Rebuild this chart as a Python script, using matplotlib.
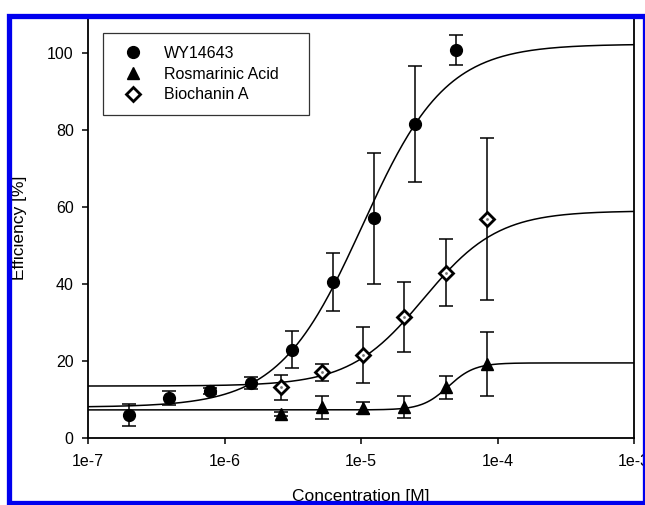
import numpy as np
import matplotlib.pyplot as plt
from matplotlib.lines import Line2D
from matplotlib.patches import Rectangle

plt.rcParams['font.family'] = ['Liberation Sans', 'DejaVu Sans']

# measured points (concentration [M], efficiency [%], error)
wy_conc = [2.0e-7, 3.9e-7, 7.8e-7, 1.56e-6, 3.1e-6, 6.25e-6, 1.25e-5, 2.5e-5, 5.0e-5]
wy_eff = [6.0, 10.4, 12.2, 14.3, 22.9, 40.5, 57.1, 81.6, 100.8]
wy_err = [2.9, 1.7, 0.7, 1.6, 4.8, 7.5, 17.0, 15.0, 4.0]

ra_conc = [2.6e-6, 5.2e-6, 1.04e-5, 2.08e-5, 4.17e-5, 8.33e-5]
ra_eff = [6.2, 8.0, 7.8, 8.0, 13.2, 19.2]
ra_err = [0.5, 3.0, 1.5, 2.8, 3.0, 8.4]

bca_conc = [2.6e-6, 5.2e-6, 1.04e-5, 2.08e-5, 4.17e-5, 8.33e-5]
bca_eff = [13.2, 17.1, 21.6, 31.4, 42.9, 56.8]
bca_err = [3.2, 2.2, 7.2, 9.1, 8.7, 21.0]

# fitted dose-response curves: bottom, top, log EC50, hill slope
wy_fit = (8.0, 102.3, -4.99, 1.42)
ra_fit = (7.3, 19.5, -4.36, 4.5)
bca_fit = (13.5, 59.0, -4.54, 1.6)

labels = ["WY14643", "Rosmarinic Acid", "Biochanin A"]
x_ticks = [1e-7, 1e-6, 1e-5, 1e-4, 1e-3]
x_tick_labels = ["1e-7", "1e-6", "1e-5", "1e-4", "1e-3"]
y_ticks = [0, 20, 40, 60, 80, 100]


def hill(x, bottom, top, logec50, slope):
    return bottom + (top - bottom) / (1 + 10 ** ((logec50 - np.log10(x)) * slope))


fig = plt.figure(figsize=(6.45, 5.05), dpi=100)
ax = fig.add_axes([88 / 645, 1 - 438 / 505, 546 / 645, (438 - 14.5) / 505])

x_curve = np.logspace(-7, -3, 400)
for fit in [wy_fit, ra_fit, bca_fit]:
    ax.plot(x_curve, hill(x_curve, *fit), color="black", lw=1.1, zorder=2)

# error bars first, markers on top
err_kw = dict(fmt="none", ecolor="black", elinewidth=1.1, capsize=4.8, capthick=1.1, zorder=3)
ax.errorbar(wy_conc, wy_eff, yerr=wy_err, **err_kw)
ax.errorbar(ra_conc, ra_eff, yerr=ra_err, **err_kw)
ax.errorbar(bca_conc, bca_eff, yerr=bca_err, **err_kw)

ax.plot(wy_conc, wy_eff, linestyle="none", marker="o", ms=8.5, mfc="black", mec="black", zorder=4)
ax.plot(ra_conc, ra_eff, linestyle="none", marker="^", ms=8, mfc="black", mec="black", zorder=4)
ax.plot(bca_conc, bca_eff, linestyle="none", marker="D", ms=6.8, mfc="white", mec="black", mew=2, zorder=4)
ax.plot(bca_conc, bca_eff, linestyle="none", marker=".", ms=2, color="#777777", zorder=5)

ax.set_xscale("log")
ax.set_xlim(1e-7, 1e-3)
ax.set_ylim(0, 110)
ax.set_xticks(x_ticks)
ax.set_xticklabels(x_tick_labels)
ax.xaxis.set_minor_locator(plt.NullLocator())
ax.set_yticks(y_ticks)
ax.tick_params(direction="out", length=4.3, width=1.1, labelsize=11.5, pad=6)
ax.tick_params(axis="x", pad=7)

ax.spines["top"].set_visible(False)
for side in ["left", "bottom", "right"]:
    ax.spines[side].set_linewidth(1.3)

handles = [
    Line2D([], [], linestyle="none", marker="o", ms=8.5, mfc="black", mec="black"),
    Line2D([], [], linestyle="none", marker="^", ms=8, mfc="black", mec="black"),
    Line2D([], [], linestyle="none", marker="D", ms=6.8, mfc="white", mec="black", mew=2),
]
leg = ax.legend(handles, labels, loc="upper left", bbox_to_anchor=(15 / 546, 0, 206 / 546, 0.956),
                mode="expand", borderaxespad=0, fontsize=11.5, frameon=True, fancybox=False,
                borderpad=0.8, labelspacing=0.35, handlelength=2.2, handletextpad=0.8)
leg.get_frame().set_edgecolor("black")
leg.get_frame().set_linewidth(0.9)

fig.text(361 / 645, 1 - 496 / 505, "Concentration [M]", ha="center", va="center", fontsize=12.5)
fig.text(20 / 645, 1 - 228 / 505, "Efficiency [%]", ha="center", va="center", rotation=90, fontsize=12.5)

# blue frame around the picture
fig.add_artist(Rectangle((9 / 645, 1 - 503 / 505), 636 / 645, 487.5 / 505, transform=fig.transFigure,
                         fill=False, edgecolor="#0000ee", linewidth=3.8, zorder=10))

fig.savefig("out.png", dpi=100)
